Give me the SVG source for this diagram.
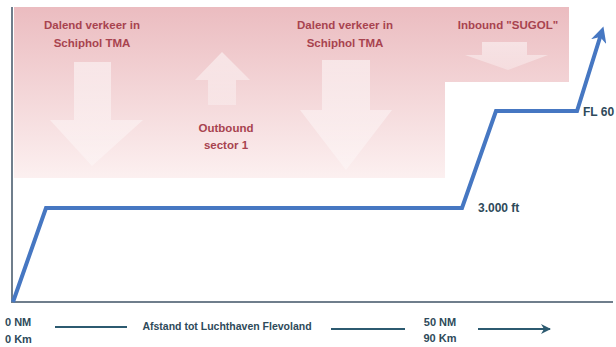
<svg xmlns="http://www.w3.org/2000/svg" width="616" height="347" viewBox="0 0 616 347">
<defs>
<linearGradient id="pink" x1="0" y1="0" x2="0" y2="1">
<stop offset="0" stop-color="#ebbcc0"/>
<stop offset="1" stop-color="#fcf0f0"/>
</linearGradient>
<linearGradient id="wh" x1="0" y1="0" x2="0" y2="1">
<stop offset="0" stop-color="#ffffff" stop-opacity="0.5"/>
<stop offset="1" stop-color="#ffffff" stop-opacity="0.3"/>
</linearGradient>
<marker id="bluehead" viewBox="0 0 10 10" refX="7" refY="5" markerWidth="4" markerHeight="4" orient="auto" markerUnits="strokeWidth">
<path d="M0,0 L10,5 L0,10 L3,5 Z" fill="#4677c2"/>
</marker>
<marker id="darkhead" viewBox="0 0 10 10" refX="9" refY="5" markerWidth="10" markerHeight="10" orient="auto" markerUnits="userSpaceOnUse">
<path d="M0,0 L10,5 L0,10 L3,5 Z" fill="#2c5a70"/>
</marker>
</defs>
<style>
.red{font-family:"Liberation Sans",Arial,sans-serif;font-weight:bold;font-size:11.5px;fill:#a8434f;text-anchor:middle}
.dk{font-family:"Liberation Sans",Arial,sans-serif;font-weight:bold;font-size:11px;fill:#2e4a5a}
.big{font-size:12px}
.sm{font-size:10.5px}
.dkc{text-anchor:middle}
.arr{fill:url(#wh)}
.ax{stroke:#6f7e8c;stroke-width:2;fill:none}
.sep{stroke:#2c5a70;stroke-width:2;fill:none}
</style>
<rect width="616" height="347" fill="#ffffff"/>
<g id="zone">
<path d="M14,7 H569 V82 H445 V178 H14 Z" fill="url(#pink)"/>
</g>
<g id="arrows">
<path class="arr" d="M74,62 H111 V120 H143 L92,166 L50,120 H74 Z"/>
<path class="arr" d="M208,105 V80 H195 L222,52 L250,80 H236 V105 Z"/>
<path class="arr" d="M322,60 H370 V110 H392 L346,170 L300,110 H322 Z"/>
<path class="arr" d="M482,42 H527 V55 H548 L508,70 L465,55 H482 Z"/>
</g>
<g id="axes">
<path class="ax" d="M12,7 V302 H613"/>
</g>
<g id="profile">
<path d="M13,302 L46,208 H462 L496,111 H577 L602,31" fill="none" stroke="#4677c2" stroke-width="4" stroke-linejoin="miter" marker-end="url(#bluehead)"/>
</g>
<g id="labels">
<text class="red" x="92" y="29">Dalend verkeer in</text>
<text class="red" x="92" y="47">Schiphol TMA</text>
<text class="red" x="226" y="132">Outbound</text>
<text class="red" x="226" y="149">sector 1</text>
<text class="red" x="345" y="29">Dalend verkeer in</text>
<text class="red" x="345" y="47">Schiphol TMA</text>
<text class="red" x="508" y="29">Inbound "SUGOL"</text>
<text class="dk big" x="583" y="116">FL 60</text>
<text class="dk big" x="478" y="212">3.000 ft</text>
</g>
<g id="xaxis">
<text class="dk" x="5" y="326">0 NM</text>
<text class="dk" x="5" y="343">0 Km</text>
<line class="sep" x1="55" y1="327" x2="127" y2="327"/>
<text class="dk dkc sm" x="227" y="330">Afstand tot Luchthaven Flevoland</text>
<line class="sep" x1="331" y1="329" x2="405" y2="329"/>
<text class="dk dkc" x="440" y="326">50 NM</text>
<text class="dk dkc" x="440" y="342">90 Km</text>
<line class="sep" x1="478" y1="329" x2="550" y2="329" marker-end="url(#darkhead)"/>
</g>
</svg>
